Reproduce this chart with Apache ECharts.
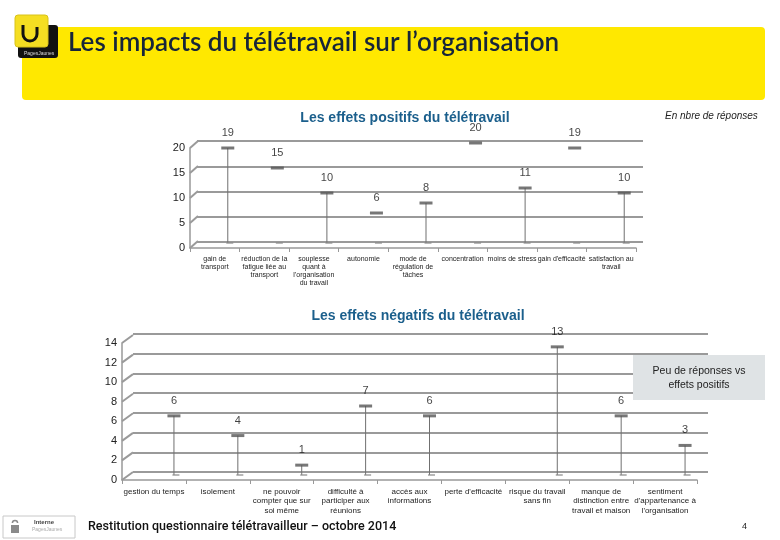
<!DOCTYPE html>
<html><head><meta charset="utf-8">
<script src="https://cdn.jsdelivr.net/npm/echarts@6/dist/echarts.min.js"></script>
<style>html,body{margin:0;padding:0;background:#fff}#c{width:780px;height:540px}</style>
</head><body><div id="c"></div>
<script>
// ---- data ----
const posCategories = ['gain de\ntransport', 'réduction de la\nfatigue liée au\ntransport', 'souplesse\nquant à\nl\'organisation\ndu travail', 'autonomie', 'mode de\nrégulation de\ntâches', 'concentration', 'moins de stress', 'gain d\'efficacité', 'satisfaction au\ntravail'];
const posValues = [19, 15, 10, 6, 8, 20, 11, 19, 10];
const posTicks = [0, 5, 10, 15, 20];
const negCategories = ['gestion du temps', 'isolement', 'ne pouvoir\ncompter que sur\nsoi même', 'difficulté à\nparticiper aux\nréunions', 'accès aux\ninformations', 'perte d\'efficacité', 'risque du travail\nsans fin', 'manque de\ndistinction entre\ntravail et maison', 'sentiment\nd\'appartenance à\nl\'organisation'];
const negValues = [6, 4, 1, 7, 6, null, 13, 6, 3];
const negTicks = [0, 2, 4, 6, 8, 10, 12, 14];

const chart = echarts.init(document.getElementById('c'), null, {renderer: 'canvas'});
const FONT = '"Liberation Sans", Arial, sans-serif';
const AXIS = '#999';

function tickMax(t){ return t[t.length-1]; }
function tickStep(t){ return t[1]-t[0]; }

function frontX(gi, cats, fs, lh){
  return {type:'category', gridIndex:gi, data:cats,
    axisLine:{lineStyle:{color:AXIS, width:1.5}},
    axisTick:{show:true, interval:0, length:4, lineStyle:{color:AXIS}},
    axisLabel:{interval:0, fontSize:fs, lineHeight:lh, color:'#222', margin:7, fontFamily:FONT}};
}
function hiddenX(gi, cats){ return {type:'category', gridIndex:gi, data:cats, show:false}; }
function frontY(gi, ticks){
  return {type:'value', gridIndex:gi, min:0, max:tickMax(ticks), interval:tickStep(ticks),
    axisLine:{show:true, lineStyle:{color:AXIS, width:1.5}}, axisTick:{show:false},
    splitLine:{show:false}, axisLabel:{fontSize:11, color:'#222', margin:5, fontFamily:FONT}};
}
function wallY(gi, ticks){
  return {type:'value', gridIndex:gi, min:0, max:tickMax(ticks), interval:tickStep(ticks),
    axisLine:{show:false}, axisTick:{show:false}, axisLabel:{show:false},
    splitLine:{show:true, lineStyle:{color:'#9a9a9a', width:2}}};
}
function hiddenY(gi, ticks){
  return {type:'value', gridIndex:gi, min:0, max:tickMax(ticks), show:false, splitLine:{show:false}};
}
function connectors(ai, ticks, dx, dy){
  return {type:'custom', xAxisIndex:ai, yAxisIndex:ai, silent:true, z:1,
    data: ticks.map(v=>[0, v]),
    renderItem:(params, api)=>{
      const y = api.coord([0, api.value(1)])[1];
      const x = params.coordSys.x;
      return {type:'line', shape:{x1:x, y1:y, x2:x+dx, y2:y-dy}, style:{stroke:'#9a9a9a', lineWidth:2}};
    }};
}
function seriesFor(ai, values, stemFilter){
  return [
    {type:'bar', xAxisIndex:ai, yAxisIndex:ai, barWidth:1, silent:true,
      data: values.map((v,i)=> (v==null || !stemFilter(i)) ? '-' : v),
      itemStyle:{color:'#707070'}},
    {type:'scatter', xAxisIndex:ai, yAxisIndex:ai, symbol:'rect', symbolSize:[7,1.5], silent:true,
      data: values.map(v=> v==null ? '-' : 0), itemStyle:{color:'#8a8a8a'}, symbolOffset:[2,0]},
    {type:'scatter', xAxisIndex:ai, yAxisIndex:ai, symbol:'rect', symbolSize:[13,3], silent:true, z:5,
      data: values.map(v=> v==null ? '-' : v),
      itemStyle:{color:'#555'},
      label:{show:true, position:'top', distance:8, fontSize:11, color:'#111', fontFamily:FONT}}
  ];
}

const option = {
  backgroundColor:'#fff',
  animation:false,
  grid:[
    {left:190, top:148, width:446, height:100},
    {left:197, top:141, width:446, height:101},
    {left:203, top:143, width:446, height:100},
    {left:122, top:343, width:575, height:137},
    {left:133, top:334, width:575, height:138},
    {left:142, top:337, width:575, height:138}
  ],
  xAxis:[
    frontX(0, posCategories, 7, 8), hiddenX(1, posCategories), hiddenX(2, posCategories),
    frontX(3, negCategories, 8, 9.5), hiddenX(4, negCategories), hiddenX(5, negCategories)
  ],
  yAxis:[
    frontY(0, posTicks), wallY(1, posTicks), hiddenY(2, posTicks),
    frontY(3, negTicks), wallY(4, negTicks), hiddenY(5, negTicks)
  ],
  series:[
    connectors(0, posTicks, 8, 7),
    ...seriesFor(2, posValues, i=> i%2===0),
    connectors(3, negTicks, 11, 8),
    ...seriesFor(5, negValues, i=> true)
  ],
  graphic:[
    {type:'rect', shape:{x:22, y:27, width:743, height:73, r:4}, style:{fill:'#ffe800'}},
    {type:'rect', shape:{x:18, y:25, width:40, height:33, r:3}, style:{fill:'#111'}},
    {type:'text', x:24, y:51, style:{text:'PagesJaunes', fill:'#ddd', fontSize:5, fontFamily:FONT}},
    {type:'rect', shape:{x:15, y:15, width:33, height:32, r:3}, style:{fill:'#f5de22', stroke:'#d8c21a', lineWidth:1}},
    {type:'line', shape:{x1:23, y1:25, x2:23, y2:34}, style:{stroke:'#111', lineWidth:3}},
    {type:'line', shape:{x1:37, y1:27, x2:37, y2:34}, style:{stroke:'#111', lineWidth:3}},
    {type:'arc', shape:{cx:30, cy:34, r:7, startAngle:0, endAngle:Math.PI, clockwise:true}, style:{stroke:'#111', lineWidth:3, fill:null}},
    {type:'text', x:68, y:43, style:{text:'Les impacts du télétravail sur l\u2019organisation', fill:'#17253a', fontSize:26, fontWeight:600, fontFamily:'Lato, "Open Sans", sans-serif', textVerticalAlign:'middle'}},
    {type:'text', x:405, y:118, style:{text:'Les effets positifs du télétravail', fill:'#1b5f8c', fontSize:14, fontWeight:'bold', fontFamily:FONT, textAlign:'center', textVerticalAlign:'middle'}},
    {type:'text', x:665, y:116, style:{text:'En nbre de réponses', fill:'#222', fontSize:10, fontStyle:'italic', fontFamily:FONT, textVerticalAlign:'middle'}},
    {type:'text', x:418, y:316, style:{text:'Les effets négatifs du télétravail', fill:'#1b5f8c', fontSize:14, fontWeight:'bold', fontFamily:FONT, textAlign:'center', textVerticalAlign:'middle'}},
    {type:'rect', z:100, shape:{x:633, y:355, width:132, height:45}, style:{fill:'#dfe3e5'}},
    {type:'text', z:101, x:699, y:378, style:{text:'Peu de réponses vs\neffets positifs', fill:'#222', fontSize:10.5, lineHeight:14, fontFamily:FONT, textAlign:'center', textVerticalAlign:'middle'}},
    {type:'rect', shape:{x:3, y:516, width:72, height:22}, style:{fill:'#fff', stroke:'#c8c8c8', lineWidth:1}},
    {type:'rect', shape:{x:11, y:525, width:8, height:8}, style:{fill:'#8a8a8a'}},
    {type:'arc', shape:{cx:15, cy:523, r:2.6, startAngle:Math.PI, endAngle:2*Math.PI, clockwise:true}, style:{stroke:'#8a8a8a', lineWidth:1.5, fill:null}},
    {type:'text', x:34, y:519, style:{text:'Interne', fill:'#444', fontSize:6, fontWeight:'bold', fontFamily:FONT}},
    {type:'text', x:32, y:527, style:{text:'PagesJaunes', fill:'#aaa', fontSize:5, fontFamily:FONT}},
    {type:'text', x:88, y:527, style:{text:'Restitution questionnaire télétravailleur \u2013 octobre 2014', fill:'#111', fontSize:12.5, fontWeight:500, fontFamily:'Roboto, sans-serif', textVerticalAlign:'middle'}},
    {type:'text', x:742, y:527, style:{text:'4', fill:'#222', fontSize:9, fontFamily:FONT, textVerticalAlign:'middle'}}
  ]
};
chart.setOption(option);
</script>
</body></html>
